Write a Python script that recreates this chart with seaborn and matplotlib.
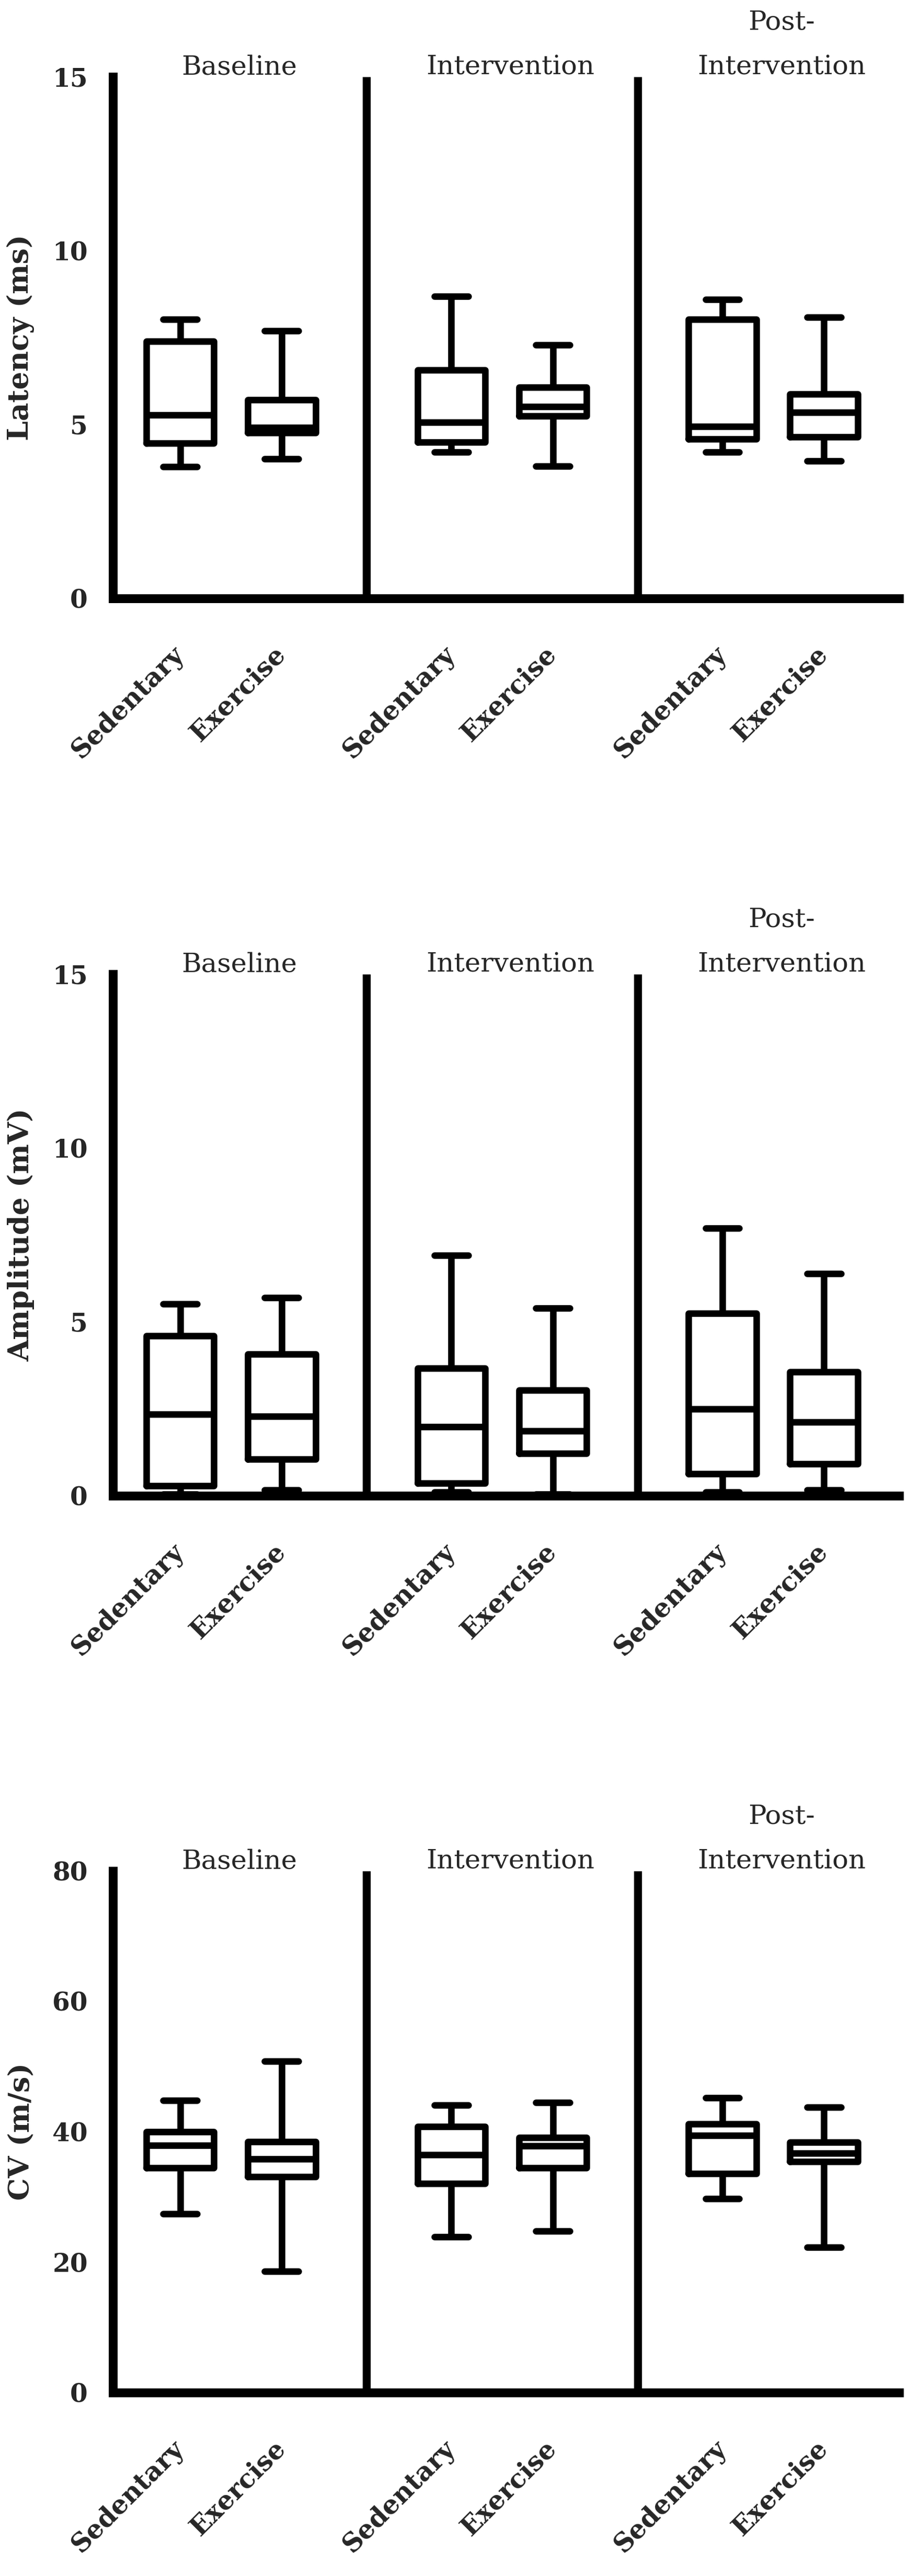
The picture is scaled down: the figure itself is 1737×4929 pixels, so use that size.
import numpy as np
import pandas as pd
import matplotlib
matplotlib.use("Agg")
import matplotlib.pyplot as plt
import seaborn as sns

# ---------------- data ----------------
phases = ["Baseline", "Intervention", "Post-\nIntervention"]
conditions = ["Sedentary", "Exercise"]
# box order: Sed-Baseline, Ex-Baseline, Sed-Interv, Ex-Interv, Sed-Post, Ex-Post

lat_min = [3.79, 4.01, 4.21, 3.80, 4.21, 3.95]
lat_q1 = [4.47, 4.76, 4.50, 5.25, 4.59, 4.65]
lat_med = [5.28, 4.91, 5.07, 5.52, 4.95, 5.35]
lat_q3 = [7.40, 5.71, 6.57, 6.07, 8.03, 5.87]
lat_max = [8.02, 7.70, 8.69, 7.29, 8.60, 8.08]

amp_min = [0.05, 0.17, 0.10, 0.05, 0.10, 0.17]
amp_q1 = [0.28, 1.05, 0.36, 1.21, 0.63, 0.92]
amp_med = [2.34, 2.29, 1.98, 1.87, 2.49, 2.12]
amp_q3 = [4.60, 4.08, 3.67, 3.03, 5.24, 3.56]
amp_max = [5.51, 5.70, 6.92, 5.40, 7.70, 6.39]

cv_min = [27.4, 18.6, 23.9, 24.8, 29.7, 22.3]
cv_q1 = [34.5, 33.1, 32.1, 34.5, 33.6, 35.4]
cv_med = [37.9, 35.8, 36.5, 37.8, 39.4, 36.7]
cv_q3 = [40.0, 38.5, 40.8, 39.1, 41.2, 38.4]
cv_max = [44.8, 50.8, 44.1, 44.5, 45.2, 43.8]

ylabels = ["Latency (ms)", "Amplitude (mV)", "CV (m/s)"]
yticks_list = [[0, 5, 10, 15], [0, 5, 10, 15], [0, 20, 40, 60, 80]]
ylims = [(0, 15), (0, 15), (0, 80)]

# ---------------- layout ----------------
group_step = 2.67
positions = [g * group_step + c for g in range(len(phases)) for c in range(len(conditions))]
group_centers = [g * group_step + 0.5 for g in range(len(phases))]
dividers = [g * group_step + 1 + (group_step - 1) / 2 for g in range(len(phases) - 1)]

sns.set_style("white")
plt.rcParams["font.family"] = ["DejaVu Serif", "DejaVu Sans"]

W, H = 1737, 4929
fig = plt.figure(figsize=(W / 100, H / 100), dpi=100)

ax_left = 216 / W
ax_width = (1720 - 216) / W
ax_height = 998 / H
zero_rows = [1145, 2862, 4578]

panels = [
    (lat_min, lat_q1, lat_med, lat_q3, lat_max),
    (amp_min, amp_q1, amp_med, amp_q3, amp_max),
    (cv_min, cv_q1, cv_med, cv_q3, cv_max),
]

LW_AX = 12.2
LW_BOX = 9.0

for i, stats in enumerate(panels):
    bottom = 1 - zero_rows[i] / H
    ax = fig.add_axes([ax_left, bottom, ax_width, ax_height])
    rows = []
    for b, pos in enumerate(positions):
        for s in stats:
            rows.append({"pos": pos, "value": s[b]})
    df = pd.DataFrame(rows)
    sns.boxplot(data=df, x="pos", y="value", native_scale=True, orient="x",
                width=0.667, whis=(0, 100), fill=False, color="black",
                linewidth=LW_BOX, showfliers=False, ax=ax,
                medianprops=dict(color="black", linewidth=LW_BOX),
                boxprops=dict(color="black", linewidth=LW_BOX),
                whiskerprops=dict(color="black", linewidth=LW_BOX),
                capprops=dict(color="black", linewidth=LW_BOX))
    for d in dividers:
        ax.axvline(d, color="black", linewidth=11, solid_capstyle="butt")

    ax.set_xlim(-0.662, 7.08)
    ax.set_ylim(*ylims[i])
    ax.set_yticks(yticks_list[i])
    ax.set_yticklabels([str(t) for t in yticks_list[i]], fontsize=35, fontweight="bold")
    ax.set_xticks(positions)
    ax.set_xticklabels(conditions * len(phases), fontsize=36, fontweight="bold")
    for lab in ax.get_xticklabels():
        lab.set_rotation(45)
        lab.set_ha("right")
        lab.set_va("center")
        lab.set_rotation_mode("anchor")
    ax.tick_params(axis="x", direction="out", length=21.6, width=12.2, pad=50, color="black")
    ax.tick_params(axis="y", direction="out", length=21.6, width=12.2, pad=13, color="black")
    ax.set_xlabel("")
    ax.set_ylabel(ylabels[i], fontsize=39, fontweight="bold")
    ax.yaxis.set_label_coords(-0.0997, 0.5)

    for sp in ["top", "right"]:
        ax.spines[sp].set_visible(False)
    for sp in ["left", "bottom"]:
        ax.spines[sp].set_linewidth(LW_AX)
        ax.spines[sp].set_color("black")
    ax.grid(False)
    ax.set_facecolor("white")

    for gc, ph in zip(group_centers, phases):
        ax.annotate(ph, xy=(gc + 0.08, 1.0), xycoords=("data", "axes fraction"),
                    xytext=(0, -5), textcoords="offset points",
                    ha="center", va="bottom", fontsize=37, linespacing=1.95,
                    annotation_clip=False)

fig.savefig("out.png", dpi=100, facecolor="white")
